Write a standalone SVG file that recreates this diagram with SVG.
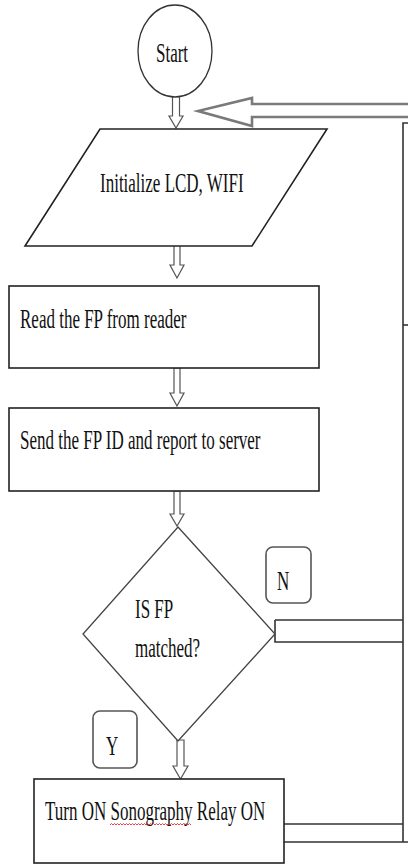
<svg xmlns="http://www.w3.org/2000/svg" width="408" height="865" viewBox="0 0 408 865">
<style>
.t{font-family:"Liberation Serif","Times New Roman",serif;font-size:17px;fill:#111;}
.box{fill:#fff;stroke:#222;stroke-width:1.6;}
.dia{fill:#fff;stroke:#444;stroke-width:1.3;}
.blk{fill:#fff;stroke:#555;stroke-width:1.2;stroke-linejoin:miter;}
.lbl{fill:#fff;stroke:#555;stroke-width:1.6;}
.ln{fill:none;stroke:#333;stroke-width:1.6;}
.fb{fill:#fff;stroke:#7a7a7a;stroke-width:2.6;}
</style>
<rect width="408" height="865" fill="#fff"/>
<g id="connectors">
  <path class="blk" d="M172.5,91 H179.5 V116 H183 L176,128 L169,116 H172.5 Z"/>
  <path class="blk" d="M174,239 H180 V265 H184 L177,278 L170,265 H174 Z"/>
  <path class="blk" d="M174,368 H180 V393 H184 L177,406 L170,393 H174 Z"/>
  <path class="blk" d="M174,491 H180 V514 H184 L177,526 L170,514 H174 Z"/>
  <path class="blk" d="M177,740 H184 V766 H188 L180.5,779 L173,766 H177 Z"/>
  <path class="fb" d="M410,104 H252 V98 L198,111 L252,126 V117 H410"/>
  <path class="ln" d="M275,620 H403 M275,620 V642 H403"/>
  <path class="ln" d="M284,824 H403 M284,842 H408"/>
  <path class="ln" d="M403,842 V123 H408"/>
  <path class="ln" d="M403,325 H408"/>
</g>
<g id="start">
  <ellipse cx="175" cy="51" rx="37" ry="46" fill="#fff" stroke="#333" stroke-width="1.3"/>
  <text class="t" transform="translate(156,62) scale(1,1.6)">Start</text>
</g>
<g id="init">
  <polygon class="box" points="100,129 327,129 252,246 25,246"/>
  <text class="t" transform="translate(100,192) scale(1,1.6)">Initialize LCD, WIFI</text>
</g>
<g id="read">
  <rect class="box" x="9" y="286" width="310" height="82"/>
  <text class="t" transform="translate(20,328) scale(1,1.6)">Read the FP from reader</text>
</g>
<g id="send">
  <rect class="box" x="9" y="408" width="310" height="83"/>
  <text class="t" transform="translate(20,449) scale(1,1.6)">Send the FP ID and report to server</text>
</g>
<g id="decision">
  <polygon class="dia" points="178,527 275,634 178,741 83,634"/>
  <text class="t" transform="translate(135,618) scale(1,1.6)">IS FP</text>
  <text class="t" transform="translate(135,657) scale(1,1.6)">matched?</text>
</g>
<g id="label-n">
  <rect class="lbl" x="266" y="547" width="45" height="56" rx="7"/>
  <text class="t" transform="translate(277,590) scale(1,1.6)">N</text>
</g>
<g id="label-y">
  <rect class="lbl" x="93" y="711" width="44" height="57" rx="7"/>
  <text class="t" transform="translate(106,755) scale(1,1.6)">Y</text>
</g>
<g id="relay">
  <rect class="box" x="34" y="779" width="250" height="84"/>
  <text class="t" transform="translate(45,820) scale(1,1.6)">Turn ON Sonography Relay ON</text>
  <path d="M110,825 l1.5,-1.5 l1.5,1.5 l1.5,-1.5 l1.5,1.5 l1.5,-1.5 l1.5,1.5 l1.5,-1.5 l1.5,1.5 l1.5,-1.5 l1.5,1.5 l1.5,-1.5 l1.5,1.5 l1.5,-1.5 l1.5,1.5 l1.5,-1.5 l1.5,1.5 l1.5,-1.5 l1.5,1.5 l1.5,-1.5 l1.5,1.5 l1.5,-1.5 l1.5,1.5 l1.5,-1.5 l1.5,1.5 l1.5,-1.5 l1.5,1.5 l1.5,-1.5 l1.5,1.5 l1.5,-1.5 l1.5,1.5 l1.5,-1.5 l1.5,1.5 l1.5,-1.5 l1.5,1.5 l1.5,-1.5 l1.5,1.5 l1.5,-1.5 l1.5,1.5 l1.5,-1.5 l1.5,1.5 l1.5,-1.5 l1.5,1.5 l1.5,-1.5 l1.5,1.5 l1.5,-1.5 l1.5,1.5 l1.5,-1.5 l1.5,1.5 l1.5,-1.5 l1.5,1.5 l1.5,-1.5 l1.5,1.5 l1.5,-1.5 l1.5,1.5" fill="none" stroke="#e03030" stroke-width="0.9"/>
</g>
</svg>
